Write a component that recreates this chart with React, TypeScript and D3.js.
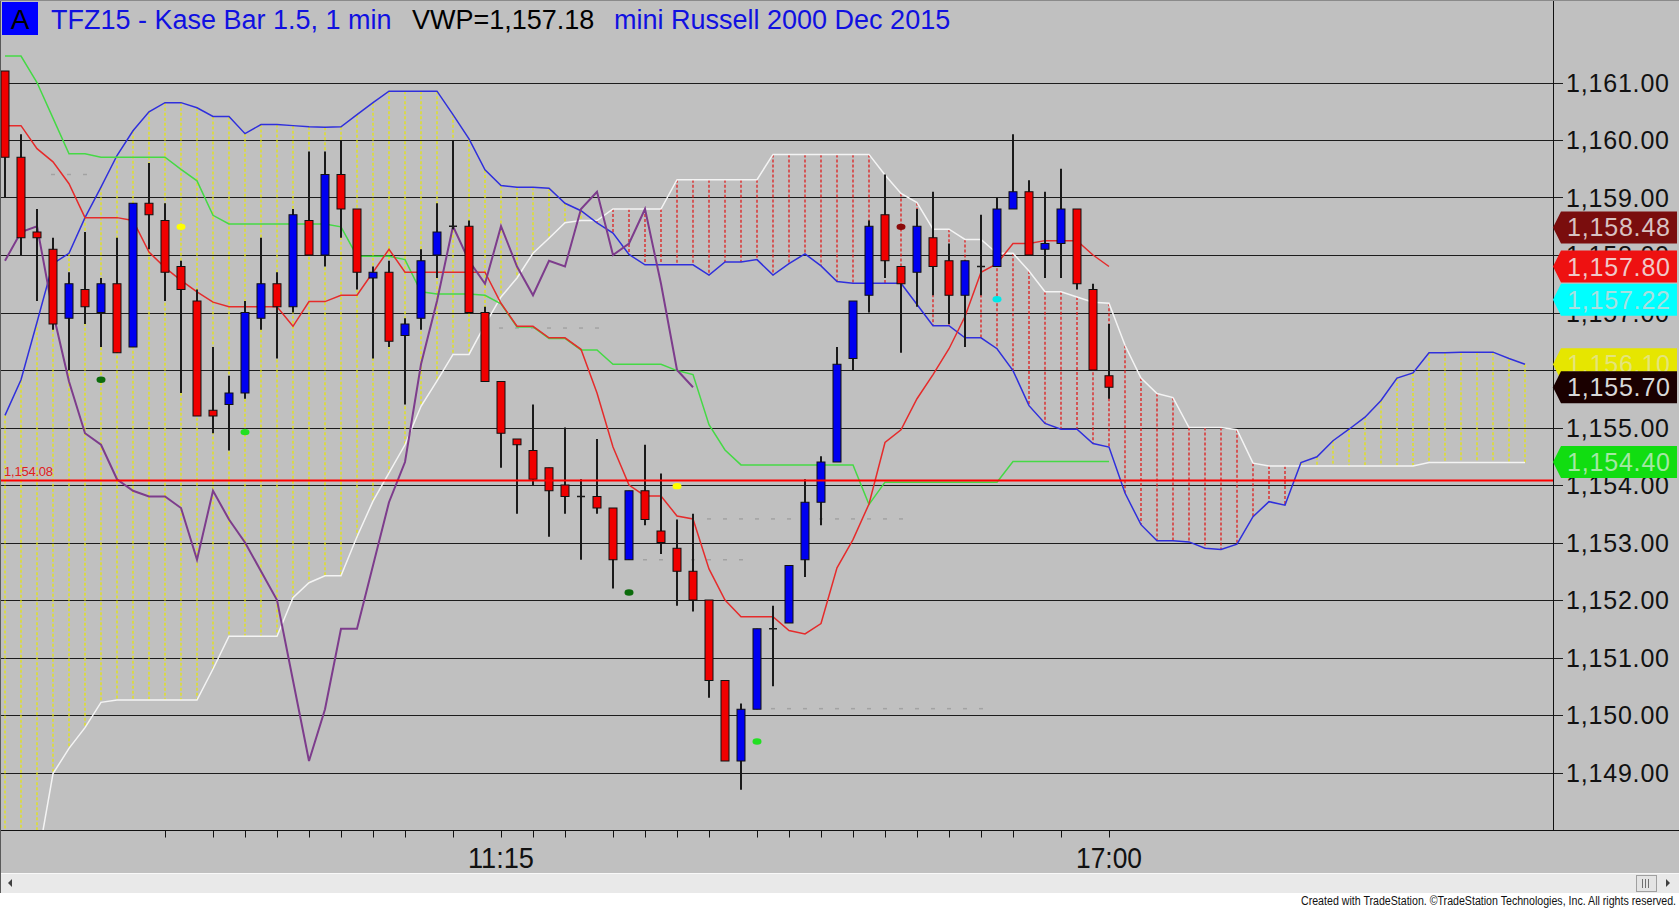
import React from 'react';
import * as d3 from 'd3';

const W = 1679;
const H = 909;

// ---- Candles (index 0..69) ----
const opens = [
  1161.2, 1159.7, 1158.4, 1158.1, 1156.9, 1157.4, 1157.0, 1157.5, 1156.4, 1158.9,
  1158.6, 1157.8, 1157.2, 1155.3, 1155.4, 1155.6, 1156.9, 1157.5, 1157.1, 1158.6,
  1158.0, 1159.4, 1158.8, 1157.6, 1157.7, 1156.6, 1156.9, 1158.0, 1158.5, 1158.5,
  1157.0, 1155.8, 1154.8, 1154.6, 1154.3, 1154.0, 1153.8, 1153.8, 1153.6, 1152.7,
  1153.9, 1153.2, 1152.9, 1152.5, 1152.0, 1150.6, 1149.2, 1150.1, 1151.5, 1151.6,
  1152.7, 1153.7, 1154.4, 1156.2, 1157.3, 1158.7, 1157.8, 1157.7, 1158.3, 1157.9,
  1157.3, 1157.8, 1157.8, 1158.8, 1159.1, 1158.1, 1158.2, 1158.8, 1157.4, 1155.9,
];
const highs = [
  1161.2, 1160.1, 1158.8, 1158.3, 1157.7, 1158.4, 1157.6, 1158.3, 1158.9, 1159.6,
  1158.9, 1157.9, 1157.4, 1156.4, 1155.9, 1157.2, 1158.3, 1157.7, 1158.8, 1159.8,
  1159.8, 1160.0, 1158.8, 1157.8, 1157.9, 1156.9, 1158.1, 1158.9, 1160.0, 1158.6,
  1157.1, 1155.8, 1154.8, 1155.4, 1154.3, 1155.0, 1154.1, 1154.8, 1153.6, 1153.9,
  1154.7, 1154.2, 1153.4, 1153.5, 1152.0, 1150.6, 1150.2, 1151.5, 1151.9, 1152.6,
  1154.1, 1154.5, 1156.4, 1157.2, 1158.6, 1159.4, 1157.8, 1158.8, 1159.1, 1158.2,
  1157.9, 1158.7, 1159.0, 1160.1, 1159.3, 1159.1, 1159.5, 1158.8, 1157.5, 1156.8,
];
const lows = [
  1159.0, 1158.0, 1157.2, 1156.7, 1156.0, 1156.8, 1156.4, 1156.3, 1156.4, 1158.1,
  1157.2, 1155.6, 1155.2, 1154.9, 1154.6, 1155.5, 1156.7, 1156.2, 1157.0, 1158.0,
  1157.8, 1158.3, 1157.4, 1156.2, 1156.4, 1155.4, 1156.7, 1157.6, 1158.45, 1157.0,
  1155.8, 1154.3, 1153.5, 1154.0, 1153.1, 1153.5, 1152.7, 1153.5, 1152.2, 1152.7,
  1153.3, 1152.8, 1151.9, 1151.8, 1150.3, 1149.2, 1148.7, 1150.1, 1150.5, 1151.6,
  1152.4, 1153.3, 1154.4, 1156.0, 1157.0, 1157.6, 1156.3, 1157.1, 1157.3, 1156.8,
  1156.4, 1157.3, 1157.8, 1158.8, 1158.0, 1157.6, 1157.6, 1157.4, 1156.0, 1155.5,
];
const closes = [
  1159.7, 1158.3, 1158.3, 1156.8, 1157.5, 1157.1, 1157.5, 1156.3, 1158.9, 1158.7,
  1157.7, 1157.4, 1155.2, 1155.2, 1155.6, 1157.0, 1157.5, 1157.1, 1158.7, 1158.0,
  1159.4, 1158.8, 1157.7, 1157.7, 1156.5, 1156.8, 1157.9, 1158.4, 1158.5, 1157.0,
  1155.8, 1154.9, 1154.7, 1154.1, 1153.9, 1153.8, 1153.8, 1153.6, 1152.7, 1153.9,
  1153.4, 1153.0, 1152.5, 1152.0, 1150.6, 1149.2, 1150.1, 1151.5, 1151.5, 1152.6,
  1153.7, 1154.4, 1156.1, 1157.2, 1158.5, 1157.9, 1157.5, 1158.5, 1157.8, 1157.3,
  1157.9, 1157.8, 1158.8, 1159.1, 1158.0, 1158.2, 1158.8, 1157.5, 1156.0, 1155.7,
];

// ---- Indicator lines ----
const tenkan = [
  1160.25, 1160.25, 1159.85, 1159.62, 1159.24, 1158.65, 1158.65, 1158.65, 1158.6, 1158.05,
  1157.78, 1157.56, 1157.36, 1157.18, 1157.1, 1157.1, 1157.1, 1157.1, 1156.76, 1157.19,
  1157.19, 1157.3, 1157.3, 1157.7, 1158.1, 1157.7, 1157.7, 1157.7, 1157.7, 1157.7,
  1157.7, 1157.16, 1156.76, 1156.76, 1156.56, 1156.56, 1156.36, 1155.6, 1154.66, 1154.0,
  1153.81, 1153.81, 1153.46, 1153.41, 1152.54, 1152.0, 1151.71, 1151.71, 1151.71, 1151.47,
  1151.41, 1151.59, 1152.56, 1153.05, 1153.67, 1154.74, 1154.96, 1155.5, 1155.92, 1156.37,
  1156.93, 1157.7, 1157.85, 1158.2, 1158.2, 1158.25, 1158.25, 1158.25, 1158.0, 1157.8,
];
const kijun = [
  1161.46, 1161.46, 1161.0, 1160.38, 1159.76, 1159.76, 1159.7, 1159.7, 1159.7, 1159.7,
  1159.7, 1159.49, 1159.29, 1158.69, 1158.54, 1158.54, 1158.54, 1158.54, 1158.54, 1158.54,
  1158.54, 1158.49, 1157.98, 1157.98, 1157.98, 1157.92, 1157.36, 1157.32, 1157.32, 1157.32,
  1157.3, 1157.15, 1156.75, 1156.75, 1156.55, 1156.55, 1156.35, 1156.35, 1156.1, 1156.1,
  1156.1, 1156.1, 1155.99, 1155.92, 1155.05, 1154.61, 1154.35, 1154.35, 1154.35, 1154.35,
  1154.35, 1154.35, 1154.35, 1154.35, 1153.66, 1154.05, 1154.05, 1154.05, 1154.05, 1154.05,
  1154.05, 1154.05, 1154.05, 1154.41, 1154.41, 1154.41, 1154.41, 1154.41, 1154.41, 1154.41,
];
// Leading spans (index 0..95)
const spanA = [
  1155.21, 1155.83, 1156.83, 1157.85, 1158.03, 1158.65, 1159.18, 1159.73, 1160.16, 1160.49,
  1160.65, 1160.65, 1160.56, 1160.41, 1160.41, 1160.11, 1160.27, 1160.27, 1160.25, 1160.23,
  1160.22, 1160.23, 1160.44, 1160.65, 1160.85, 1160.85, 1160.85, 1160.85, 1160.44, 1160.02,
  1159.48, 1159.21, 1159.18, 1159.18, 1159.16, 1158.9, 1158.77, 1158.56, 1158.38, 1158.01,
  1157.83, 1157.83, 1157.83, 1157.83, 1157.65, 1157.88, 1157.88, 1157.92, 1157.65, 1157.85,
  1158.02, 1157.81, 1157.54, 1157.51, 1157.51, 1157.51, 1157.51, 1157.14, 1156.77, 1156.77,
  1156.56, 1156.56, 1156.37, 1155.99, 1155.38, 1155.07, 1154.97, 1154.97, 1154.72, 1154.66,
  1153.86, 1153.31, 1153.03, 1153.03, 1153.01, 1152.9, 1152.88, 1152.97, 1153.45, 1153.71,
  1153.65, 1154.39, 1154.49, 1154.77, 1154.97, 1155.18, 1155.47, 1155.86, 1155.95, 1156.3,
  1156.3, 1156.31, 1156.31, 1156.31, 1156.2, 1156.1,
];
const spanB = [
  1145.8, 1145.8, 1147.4, 1148.98, 1149.42, 1149.78, 1150.22, 1150.26, 1150.26, 1150.26,
  1150.26, 1150.26, 1150.26, 1150.8, 1151.37, 1151.37, 1151.37, 1151.37, 1152.04, 1152.3,
  1152.42, 1152.42, 1153.1, 1153.72, 1154.21, 1154.7, 1155.37, 1155.81, 1156.27, 1156.27,
  1156.79, 1157.27, 1157.6, 1158.03, 1158.29, 1158.56, 1158.6, 1158.6, 1158.8, 1158.8,
  1158.8, 1158.8, 1159.31, 1159.31, 1159.31, 1159.31, 1159.31, 1159.31, 1159.75, 1159.75,
  1159.75, 1159.75, 1159.75, 1159.75, 1159.75, 1159.39, 1159.07, 1158.91, 1158.45, 1158.45,
  1158.27, 1158.27, 1158.03, 1158.03, 1157.72, 1157.36, 1157.36, 1157.27, 1157.18, 1157.16,
  1156.43, 1155.86, 1155.59, 1155.52, 1155.0, 1155.0, 1155.0, 1154.96, 1154.38, 1154.33,
  1154.33, 1154.33, 1154.33, 1154.33, 1154.33, 1154.33, 1154.33, 1154.33, 1154.33, 1154.39,
  1154.39, 1154.39, 1154.39, 1154.39, 1154.39, 1154.39,
];
const LAG = 26; // lagging span is the close shifted back 26 bars

// ---- Markers ----
const dotIndex = [6, 15, 11, 39, 42, 47, 56, 62];
const dotPrice = [1155.83, 1154.92, 1158.49, 1152.13, 1153.98, 1149.54, 1158.49, 1157.23];
const dotColor = ['#0b6b0b', '#22e022', '#ffff00', '#0b6b0b', '#ffff00', '#22e022', '#8b0a0a', '#00e8e8'];

const faintPrice = [1159.4, 1156.73, 1153.41, 1152.7, 1150.11];
const faintFrom = [3, 30, 44, 40, 48];
const faintTo = [5, 37, 56, 46, 61];

// ---- Axes ----
const priceTicks = d3.range(1149, 1162, 1);
const timeTickIdx = [10, 13, 15, 17, 19, 21, 23, 25, 28, 31, 33, 35, 38, 40, 42, 44, 47, 49, 51, 53, 55, 57, 59, 61, 63, 66, 69];
const timeLabels = [{ i: 31, t: '11:15' }, { i: 69, t: '17:00' }];

const hLinePrice = 1154.08;

const tagPrices = [1158.48, 1157.8, 1157.22, 1156.1, 1155.7, 1154.4];
const tagFill = ['#7a0d0d', '#ee1111', '#00ffff', '#e6e600', '#1a0000', '#11dd11'];
const tagText = ['#d8c2c2', '#f0c8c8', '#a8e0e0', '#e4e47a', '#d8d8d8', '#a4e8a4'];

const FONT = "'Liberation Sans', Arial, Helvetica, sans-serif";

export default function App() {
  const x = d3.scaleLinear().domain([0, 95]).range([5, 1525]);
  const y = d3.scaleLinear().domain([1149, 1161]).range([772.5, 82.5]);
  const fmt = d3.format(',.2f');
  const path = (arr: number[]) =>
    d3.line<number>().x((_, i) => x(i)).y((d) => y(d))(arr) || '';

  const plotRight = 1553.5;
  const plotBottom = 830.5;
  const crisp = (v: number) => Math.round(v) + 0.5;
  const lagging = closes.slice(LAG);

  return (
    <svg
      width={W}
      height={H}
      viewBox={`0 0 ${W} ${H}`}
      style={{ position: 'absolute', left: 0, top: 0, display: 'block' }}
      fontFamily={FONT}
    >
      <defs>
        <clipPath id="plotClip">
          <rect x={1} y={1} width={plotRight - 1} height={plotBottom - 1} />
        </clipPath>
      </defs>
      <rect x={0} y={0} width={W} height={H} fill="#c0c0c0" />

      {/* gridlines + price labels */}
      {priceTicks.map((p) => (
        <g key={p}>
          <line x1={0} x2={1563} y1={crisp(y(p))} y2={crisp(y(p))} stroke="#1c1c1c" strokeWidth={1} />
          <text x={1566} y={y(p) + 9} fontSize={25} fill="#111" textLength={103} lengthAdjust="spacing">
            {fmt(p)}
          </text>
        </g>
      ))}

      <g clipPath="url(#plotClip)">
        {/* cloud hatching */}
        {spanA.map((a, i) => {
          const b = spanB[i];
          const up = a >= b;
          return (
            <line
              key={'c' + i}
              x1={x(i)}
              x2={x(i)}
              y1={y(Math.max(a, b))}
              y2={y(Math.min(a, b))}
              stroke={up ? '#e8e800' : '#e01010'}
              strokeWidth={1.2}
              strokeDasharray="3,2"
            />
          );
        })}
        <path d={path(spanB)} fill="none" stroke="#f4f4f4" strokeWidth={1.5} />
        <path d={path(spanA)} fill="none" stroke="#2f2fdc" strokeWidth={1.5} />

        {/* faint marker rows */}
        {faintPrice.map((p, k) =>
          d3.range(faintFrom[k], faintTo[k] + 1).map((i) => (
            <line key={'f' + k + '-' + i} x1={x(i) - 2} x2={x(i) + 2} y1={y(p)} y2={y(p)} stroke="#a2a2a2" strokeWidth={1.5} />
          ))
        )}

        <path d={path(kijun)} fill="none" stroke="#45d945" strokeWidth={1.5} />
        <path d={path(tenkan)} fill="none" stroke="#e52b2b" strokeWidth={1.5} />
        <path d={path(lagging)} fill="none" stroke="#7d3c8c" strokeWidth={2} />

        {/* candles */}
        {opens.map((o, i) => {
          const c = closes[i];
          const cx = x(i);
          const doji = Math.abs(o - c) < 0.001;
          const top = y(Math.max(o, c));
          const bot = y(Math.min(o, c));
          return (
            <g key={'k' + i}>
              <line x1={cx} x2={cx} y1={y(highs[i])} y2={y(lows[i])} stroke="#1a1a1a" strokeWidth={2} />
              {doji ? (
                <line x1={cx - 4} x2={cx + 4} y1={top} y2={top} stroke="#1a1a1a" strokeWidth={1.5} />
              ) : (
                <rect
                  x={cx - 4}
                  y={top}
                  width={8}
                  height={Math.max(bot - top, 1)}
                  fill={c < o ? '#f00000' : '#0000f0'}
                  stroke="#111"
                  strokeWidth={1}
                />
              )}
            </g>
          );
        })}

        {/* dots */}
        {dotIndex.map((i, k) => (
          <ellipse key={'d' + k} cx={x(i)} cy={y(dotPrice[k])} rx={4.5} ry={3.2} fill={dotColor[k]} />
        ))}

        {/* horizontal price line */}
        <line x1={0} x2={plotRight} y1={y(hLinePrice)} y2={y(hLinePrice)} stroke="#ff0000" strokeWidth={2} />
        <text x={4} y={y(hLinePrice) - 4} fontSize={13} fill="#e02020" textLength={49} lengthAdjust="spacing">
          {fmt(hLinePrice)}
        </text>
      </g>

      {/* axis frame */}
      <line x1={plotRight} x2={plotRight} y1={0} y2={plotBottom} stroke="#111" strokeWidth={1} />
      <line x1={0} x2={W} y1={plotBottom} y2={plotBottom} stroke="#111" strokeWidth={1} />

      {/* time ticks */}
      {timeTickIdx.map((i) => (
        <line key={'t' + i} x1={crisp(x(i))} x2={crisp(x(i))} y1={plotBottom} y2={plotBottom + 7} stroke="#111" strokeWidth={1} />
      ))}
      {timeLabels.map((l) => (
        <text
          key={l.t}
          x={x(l.i) - 33}
          y={868}
          fontSize={30}
          fill="#111"
          textLength={66}
          lengthAdjust="spacingAndGlyphs"
        >
          {l.t}
        </text>
      ))}

      {/* last value tags */}
      {tagPrices.map((p, k) => {
        const cy = y(p);
        const pts = `1553,${cy} 1561,${cy - 16} 1677,${cy - 16} 1677,${cy + 16} 1561,${cy + 16}`;
        return (
          <g key={'tag' + k}>
            <polygon points={pts} fill={tagFill[k]} />
            <text x={1567} y={cy + 9} fontSize={25} fill={tagText[k]} textLength={103} lengthAdjust="spacing">
              {fmt(p)}
            </text>
          </g>
        );
      })}

      {/* title */}
      <rect x={2} y={2} width={36} height={33} fill="#0000ff" />
      <text x={20} y={29} fontSize={28} textAnchor="middle" fill="#000">A</text>
      <text x={51} y={28.5} fontSize={27} fill="#1010e0">TFZ15 - Kase Bar 1.5, 1 min</text>
      <text x={412} y={28.5} fontSize={27} fill="#000">VWP=1,157.18</text>
      <text x={614} y={28.5} fontSize={27} fill="#1010e0">mini Russell 2000 Dec 2015</text>

      {/* scrollbar */}
      <rect x={1} y={873} width={W - 1} height={20} fill="#e9e9e9" />
      <line x1={1} x2={W} y1={873.5} y2={873.5} stroke="#f8f8f8" />
      <polygon points="8,883 12,879 12,887" fill="#404040" />
      <rect x={1636.5} y={875.5} width={20} height={16} fill="#e4e4e4" stroke="#a0a0a0" />
      {[1642.5, 1645.5, 1648.5].map((lx) => (
        <line key={lx} x1={lx} x2={lx} y1={879} y2={888} stroke="#707070" />
      ))}
      <polygon points="1666,879 1670,883 1666,887" fill="#404040" />

      {/* footer */}
      <rect x={0} y={893} width={W} height={16} fill="#ffffff" />
      <text x={1301} y={905} fontSize={12.5} fill="#111" textLength={375} lengthAdjust="spacingAndGlyphs">
        Created with TradeStation. ©TradeStation Technologies, Inc. All rights reserved.
      </text>

      {/* outer borders */}
      <line x1={0.5} x2={0.5} y1={0} y2={893} stroke="#5a5a5a" />
      <line x1={0} x2={W} y1={0.5} y2={0.5} stroke="#8a8a8a" />
    </svg>
  );
}
